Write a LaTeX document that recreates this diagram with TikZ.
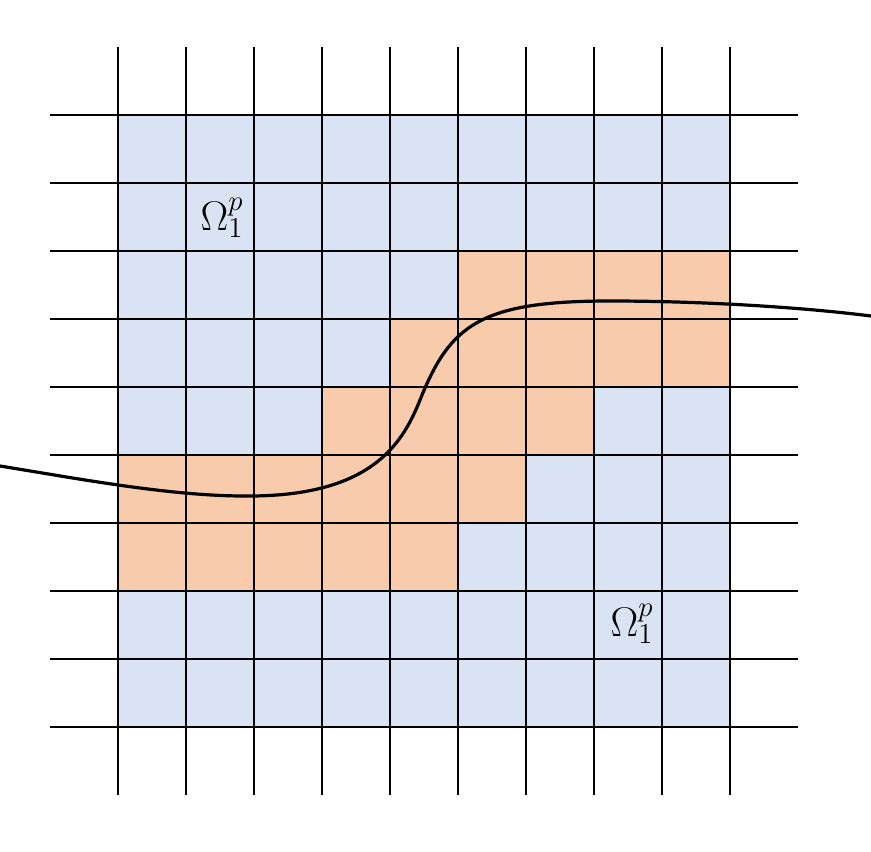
\documentclass[tikz,border=0pt]{standalone}
\definecolor{cellblue}{HTML}{DAE3F3}
\definecolor{cellorange}{HTML}{F8CBAD}
\begin{document}
\begin{tikzpicture}[x=0.5pt,y=-0.5pt,
  gridline/.style={line width=1pt,black},
  curveline/.style={line width=1.6pt,black},
  lbl/.style={font=\fontsize{20}{24}\selectfont,inner sep=0pt}]
\useasboundingbox (0,0) rectangle (871,851);
% blue region
\fill[cellblue] (118,115) rectangle (730,727);
% orange cells
\fill[cellorange] (458,251) rectangle (730,319);
\fill[cellorange] (390,319) rectangle (730,387);
\fill[cellorange] (322,387) rectangle (594,455);
\fill[cellorange] (118,455) rectangle (526,523);
\fill[cellorange] (118,523) rectangle (458,591);
% grid
\foreach \i in {0,...,9} {
  \draw[gridline] ({118+68*\i},47) -- ({118+68*\i},795);
  \draw[gridline] (50,{115+68*\i}) -- (798,{115+68*\i});
}
% curve
\coordinate (c0) at (0,466);
\coordinate (c1) at (245,496);
\coordinate (c2) at (420,400);
\coordinate (c3) at (610,301);
\coordinate (c4) at (871,316);
\draw[curveline] (c0) .. controls (80,479) and (170,496) .. (c1)
  .. controls (370,497) and (402,445) .. (c2)
  .. controls (450,325) and (480,301) .. (c3)
  .. controls (700,301) and (800,307) .. (c4);
% labels
\node[lbl] (o1) at (222,218) {$\Omega_1^p$};
\node[lbl] (o2) at (632,624) {$\Omega_1^p$};
\end{tikzpicture}
\end{document}
